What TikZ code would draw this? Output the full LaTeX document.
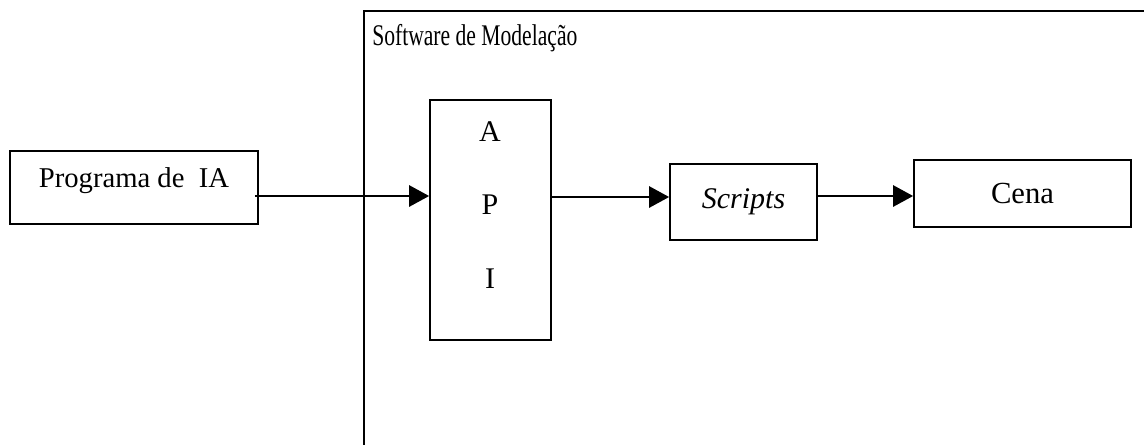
\documentclass[tikz,border=0pt]{standalone}
\usepackage{fontspec}
\setmainfont{Liberation Serif}
\usetikzlibrary{arrows.meta}
\tikzset{
  box/.style={draw, line width=1.35pt, rectangle, inner sep=0pt},
  arr/.style={line width=1.35pt, -{Triangle[length=15pt,width=16pt]}}
}
\begin{document}
\begin{tikzpicture}[x=0.75pt,y=-0.75pt]
\useasboundingbox (0,0) rectangle (1144,444);
\fill[white] (0,0) rectangle (1144,444);
\begin{scope}
\clip (0,0) rectangle (1144,444);
\coordinate (swbl) at (364,470);
\coordinate (swtl) at (364,11);
\coordinate (swtr) at (1170,11);
\draw[line width=1.35pt] (swbl) -- (swtl) -- (swtr);
\end{scope}
\node[anchor=base west, inner sep=0pt] (swlabel) at (372,45)
  {\scalebox{0.72}[1]{\fontsize{22.5}{26}\selectfont Software de Modelação}};

\node[box, minimum width=248*0.75pt, minimum height=73*0.75pt, text height=15pt, text depth=15pt,
  font=\fontsize{21.5}{26}\selectfont] (prog) at (134,187.5) {Programa de\ \ IA};

\node[box, minimum width=121*0.75pt, minimum height=240*0.75pt] (api) at (490.5,220) {};
\node[align=center, inner sep=0pt, font=\fontsize{22.5}{55}\selectfont, anchor=base] (apitext) at (490,288) {A\\P\\I};

\node[box, minimum width=147*0.75pt, minimum height=76*0.75pt, font=\itshape\fontsize{22.5}{26}\selectfont] (scripts) at (743.5,202) {Scripts};

\node[box, minimum width=217*0.75pt, minimum height=67*0.75pt, font=\fontsize{23}{26}\selectfont] (cena) at (1022.5,193.5) {Cena};

\draw[arr] ([xshift=-3pt]prog.east |- 0,196) -- (api.west |- 0,196);
\draw[arr] (api.east |- 0,197) -- (scripts.west |- 0,197);
\draw[arr] (scripts.east |- 0,196) -- (cena.west |- 0,196);
\end{tikzpicture}
\end{document}
